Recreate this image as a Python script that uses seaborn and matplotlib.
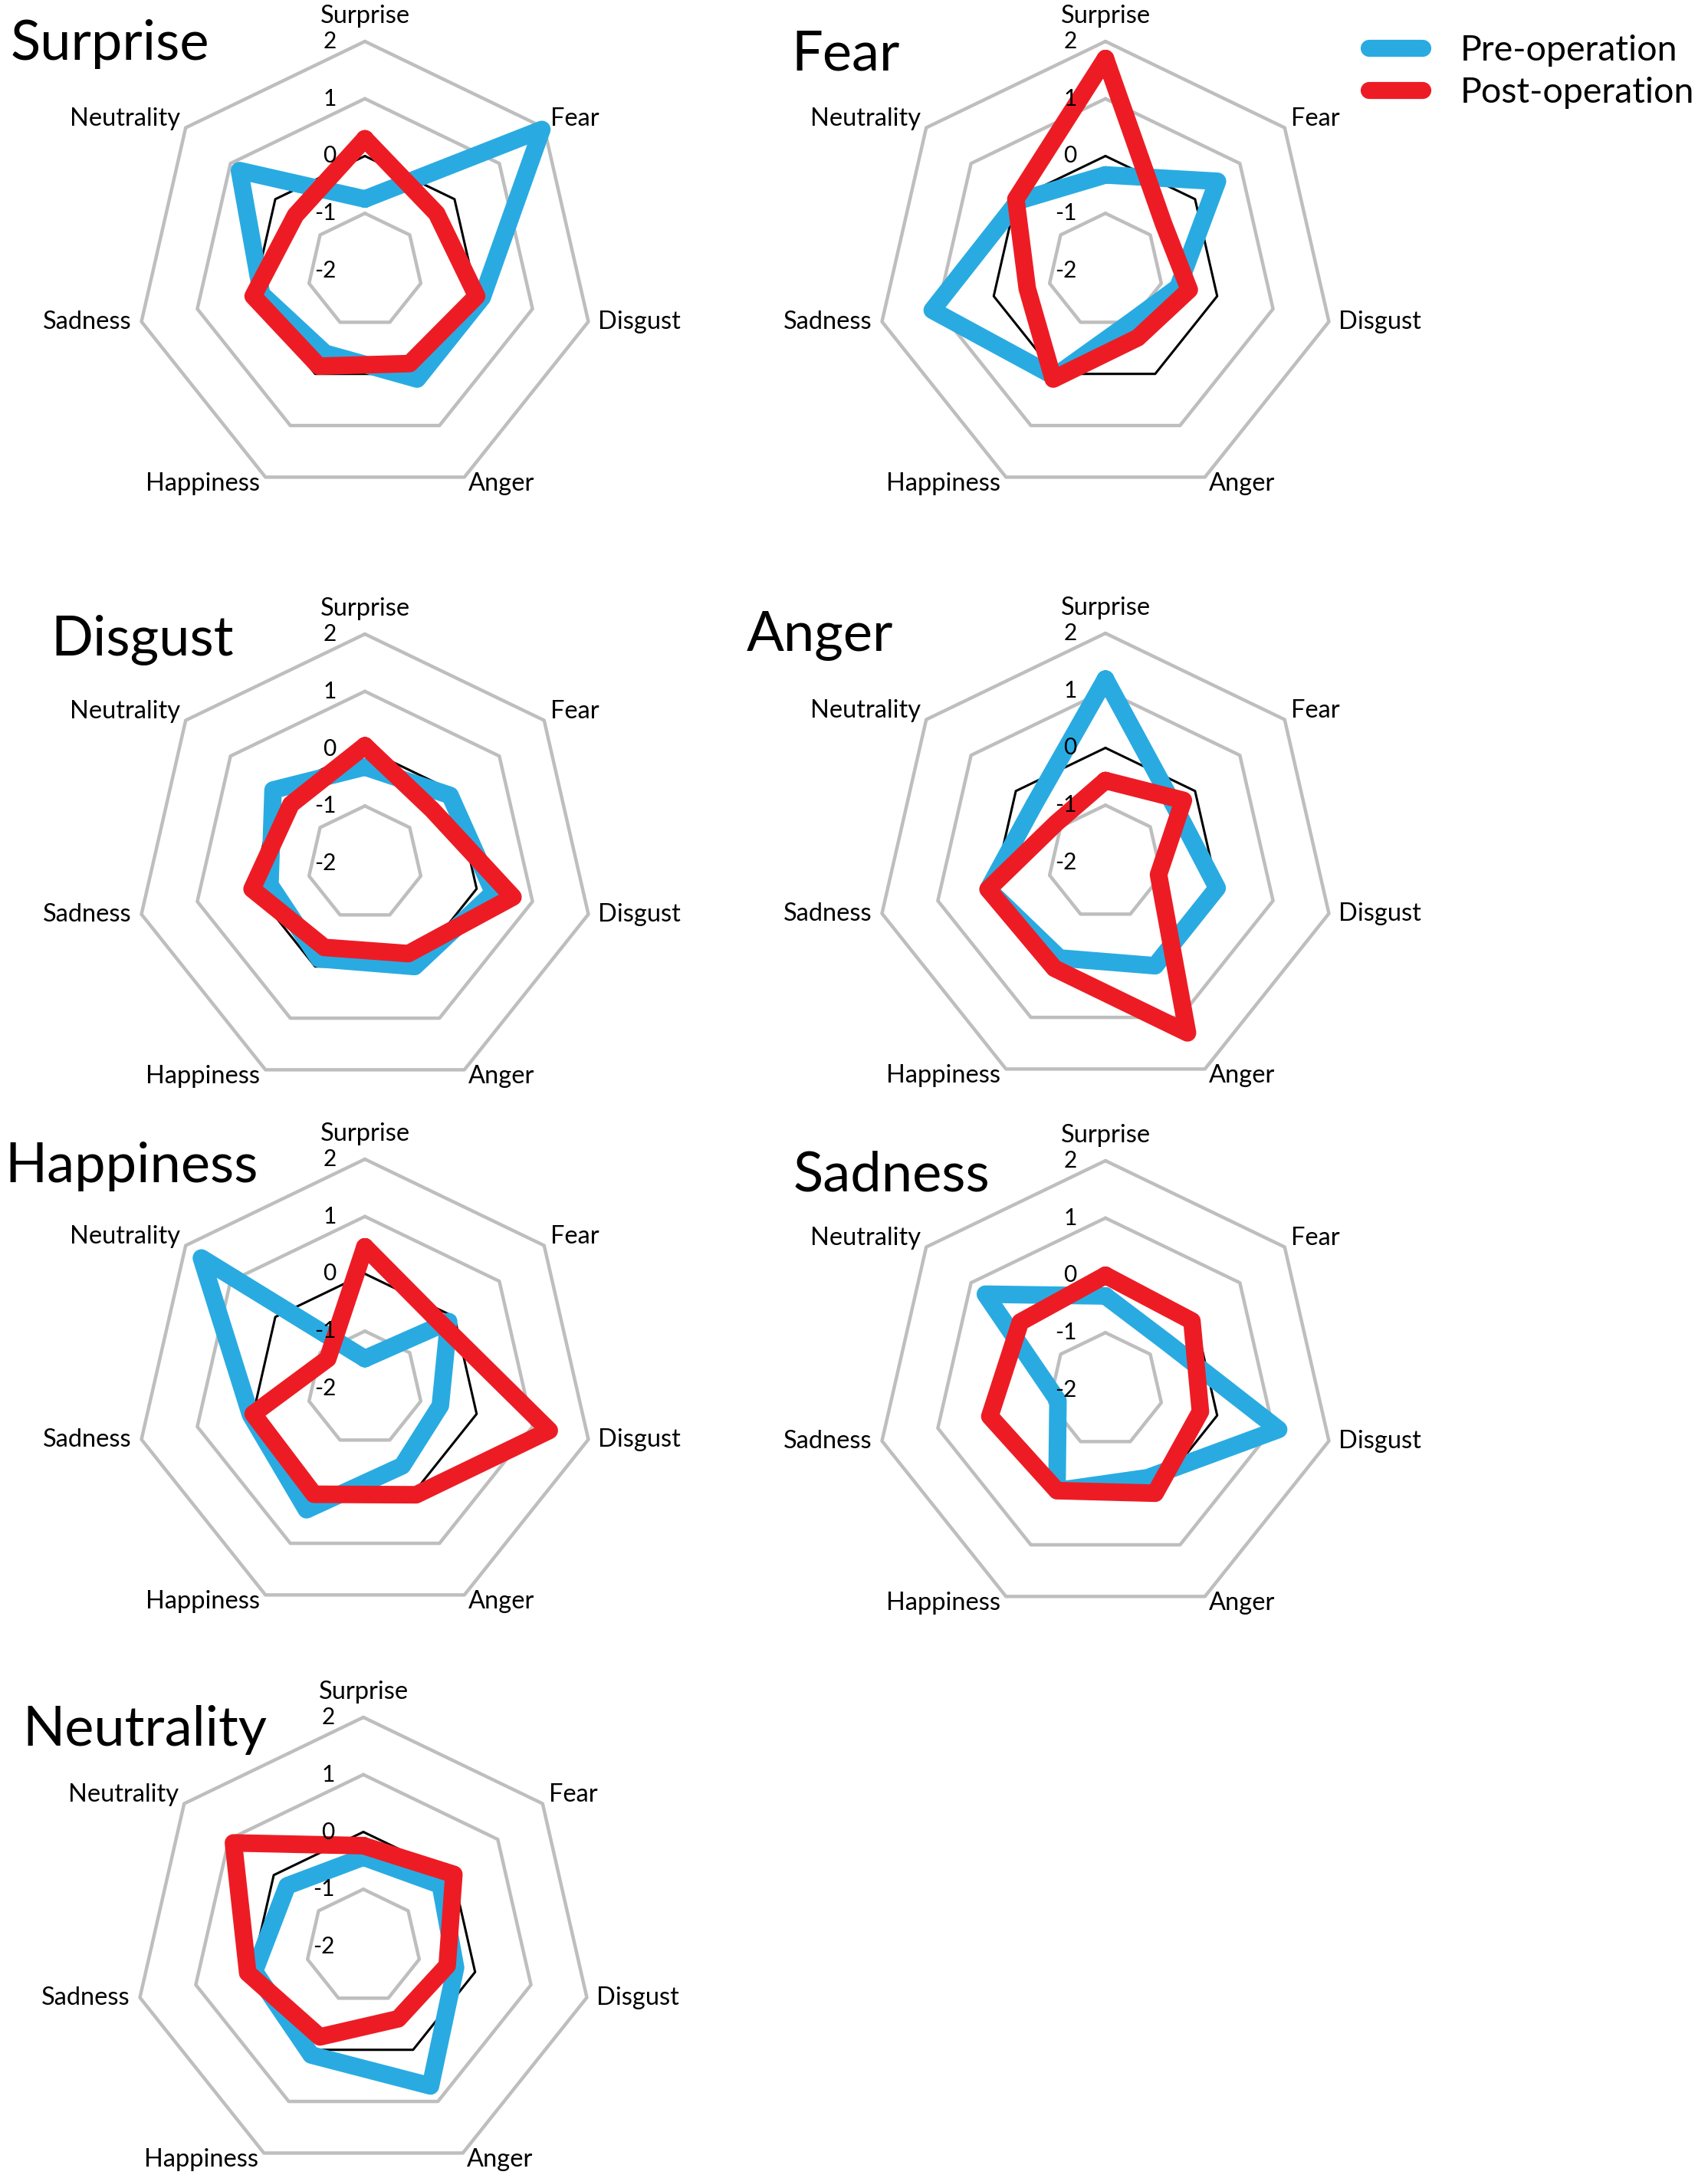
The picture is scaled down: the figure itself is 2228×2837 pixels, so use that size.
import numpy as np
import pandas as pd
import seaborn as sns
import matplotlib.pyplot as plt
from matplotlib.lines import Line2D

# Les 7 émotions, dans le sens horaire depuis le haut
categories = ['Surprise', 'Fear', 'Disgust', 'Anger', 'Happiness', 'Sadness', 'Neutrality']
groups = ['Pre-operation', 'Post-operation']
ring_levels = [-1, 1, 2]
zero_level = 0
tick_values = [2, 1, 0, -1, -2]
tick_labels = ['2', '1', '0', '-1', '-2']

# valeurs lues sur chaque radar (ordre = categories)
pre_surprise = [-0.75, 1.95, 0.1, 0.1, -0.4, -0.15, 0.8]
post_surprise = [0.3, -0.4, 0.0, -0.2, -0.15, 0.0, -0.45]

pre_fear = [-0.33, 0.5, -0.7, -1.0, 0.05, 1.1, -0.05]
post_fear = [1.7, -0.7, -0.5, -0.7, 0.1, -0.6, 0.0]

pre_disgust = [-0.32, -0.1, 0.3, 0.0, -0.15, -0.3, 0.05]
post_disgust = [0.05, -0.5, 0.65, -0.25, -0.37, 0.02, -0.35]

pre_anger = [1.2, -0.45, 0.0, 0.0, -0.15, 0.1, -0.4]
post_anger = [-0.57, -0.26, -1.05, 1.3, 0.05, 0.1, -0.9]

pre_happiness = [-1.48, -0.13, -0.65, -0.5, 0.35, 0.05, 1.65]
post_happiness = [0.47, -0.25, 1.3, 0.06, 0.05, 0.0, -1.17]

pre_sadness = [-0.36, -0.65, 1.1, -0.3, -0.05, -1.15, 0.68]
post_sadness = [0.0, -0.07, -0.3, 0.0, -0.05, 0.07, -0.1]

pre_neutrality = [-0.44, -0.28, -0.35, 0.7, 0.1, -0.05, -0.3]
post_neutrality = [-0.24, 0.02, -0.5, -0.6, -0.25, 0.07, 0.9]

panels = [
    ('Surprise', pre_surprise, post_surprise),
    ('Fear', pre_fear, post_fear),
    ('Disgust', pre_disgust, post_disgust),
    ('Anger', pre_anger, post_anger),
    ('Happiness', pre_happiness, post_happiness),
    ('Sadness', pre_sadness, post_sadness),
    ('Neutrality', pre_neutrality, post_neutrality),
]

# mise en page (pixels)
W, H = 2228, 2837
R = 299
centers = [(476, 353), (1442, 353), (476, 1126), (1442, 1125),
           (476, 1811), (1442, 1813), (474, 2539)]
title_pos = [(14, 78), (1032, 91), (66, 855), (974, 849),
             (6, 1542), (1035, 1554), (29, 2277)]
# décalage des noms d'axes en points
label_offsets = [(0, 24, 'center'), (6, 8, 'left'), (9, 0, 'left'), (4, -6, 'left'),
                 (-5, -6, 'right'), (-9, 0, 'right'), (-5, 8, 'right')]

blue = '#29ABE2'
red = '#ED1C24'

sns.set_style('white')
plt.rcParams['font.family'] = ['Lato', 'DejaVu Sans']
plt.rcParams['text.color'] = 'black'

theta = np.arange(len(categories)) * 2 * np.pi / len(categories)
theta_closed = np.append(theta, 2 * np.pi)

fig = plt.figure(figsize=(W / 100, H / 100), dpi=100)

for (title, pre, post), (cx, cy), (tx, ty) in zip(panels, centers, title_pos):
    ax = fig.add_axes([(cx - R) / W, 1 - (cy + R) / H, 2 * R / W, 2 * R / H], projection='polar')
    ax.set_theta_zero_location('N')
    ax.set_theta_direction(-1)

    # grille en heptagones
    for lvl in ring_levels:
        ax.plot(theta_closed, [lvl] * len(theta_closed), color='#BEBEBE', lw=3.2, zorder=1, clip_on=False)
    ax.plot(theta_closed, [zero_level] * len(theta_closed), color='black', lw=2.2, zorder=2, clip_on=False)

    df = pd.DataFrame({
        'theta': np.tile(theta_closed, 2),
        'value': pre + pre[:1] + post + post[:1],
        'group': np.repeat(groups, len(theta_closed)),
    })
    sns.lineplot(data=df, x='theta', y='value', hue='group', hue_order=groups,
                 palette=[blue, red], sort=False, estimator=None, linewidth=16.5,
                 solid_joinstyle='round', clip_on=False, zorder=3, legend=False, ax=ax)

    ax.set_ylim(-2, 2)
    ax.set_xticks([])
    ax.set_yticks([])
    ax.grid(False)
    ax.spines['polar'].set_visible(False)
    ax.set_facecolor('none')
    ax.set_xlabel('')
    ax.set_ylabel('')

    for cat, th, (dx, dy, ha) in zip(categories, theta, label_offsets):
        ax.annotate(cat, xy=(th, 2), xytext=(dx, dy), textcoords='offset points',
                    ha=ha, va='center', fontsize=23.5)
    for v, lab in zip(tick_values, tick_labels):
        ax.annotate(lab, xy=(0, v), xytext=(-27, 0), textcoords='offset points',
                    ha='right', va='center', fontsize=21.5)

    fig.text(tx / W, 1 - ty / H, title, fontsize=52, ha='left', va='baseline')

handles = [Line2D([], [], color=blue, lw=16, solid_capstyle='round'),
           Line2D([], [], color=red, lw=16, solid_capstyle='round')]
fig.legend(handles, groups, loc='upper left', bbox_to_anchor=(1786 / W, 1 - 45 / H),
           frameon=False, fontsize=33.5, handlelength=1.5, handletextpad=1.05,
           labelspacing=0.28, borderpad=0, borderaxespad=0)

fig.savefig('out.png', dpi=100)
